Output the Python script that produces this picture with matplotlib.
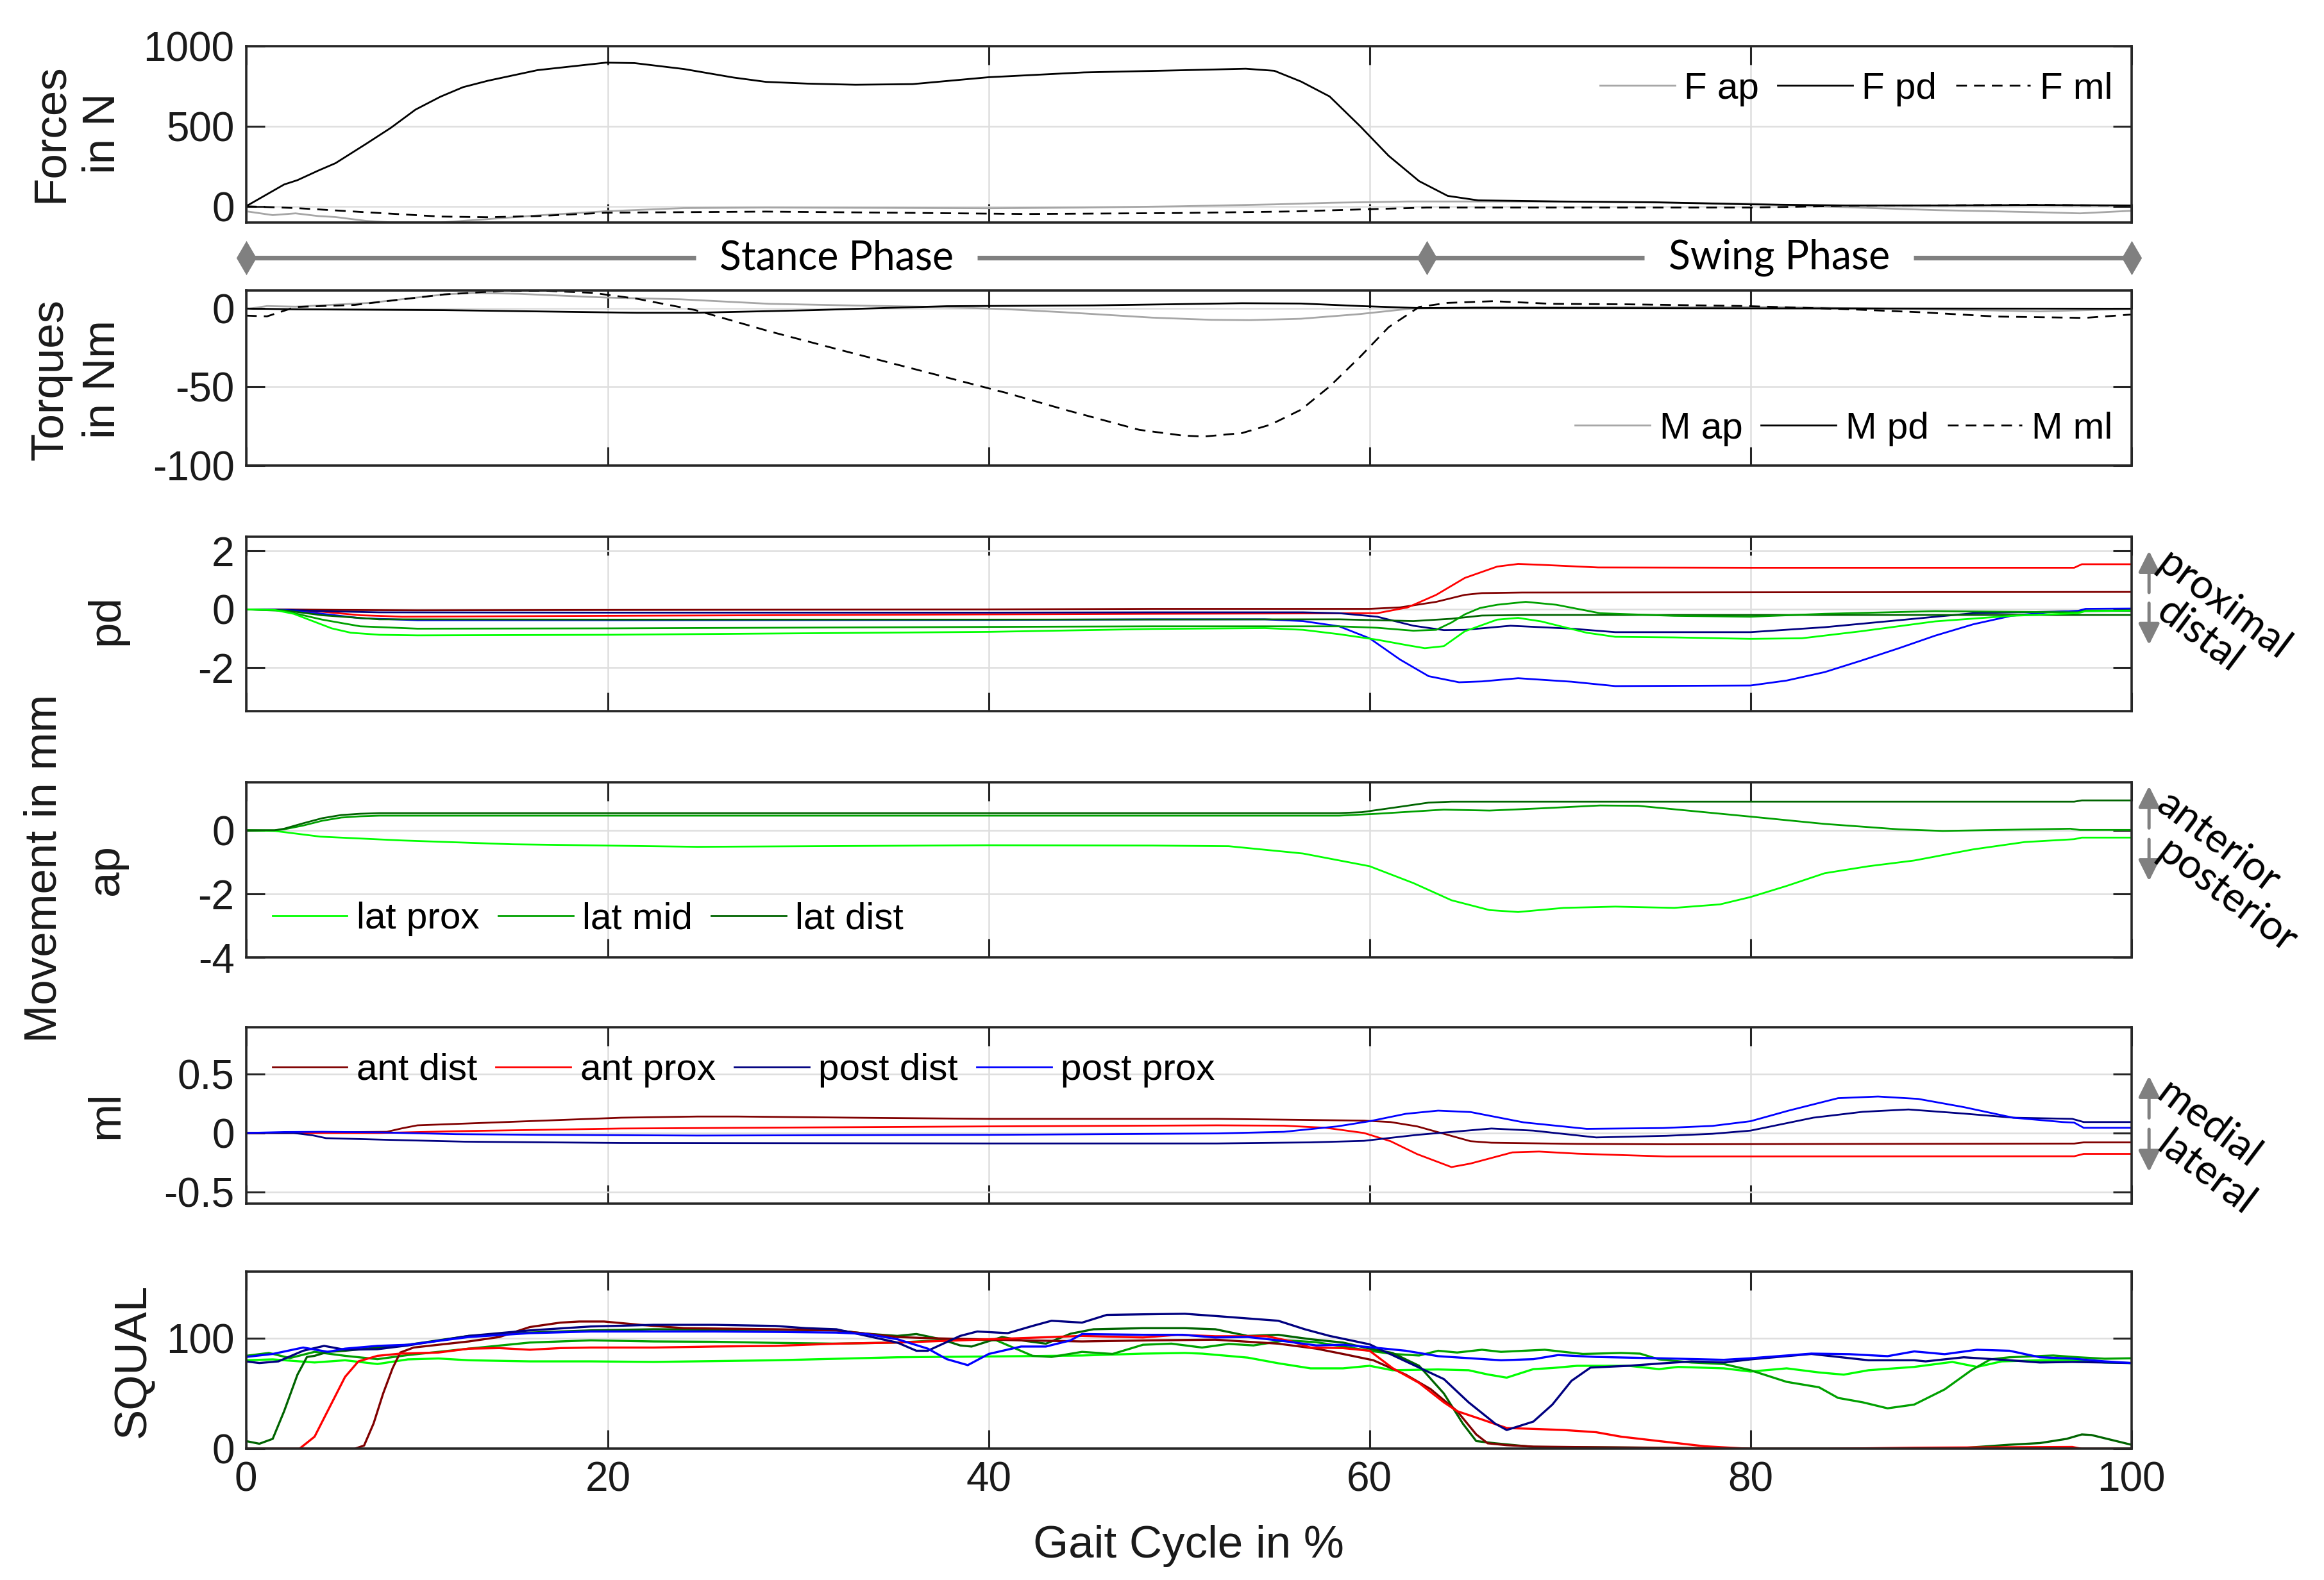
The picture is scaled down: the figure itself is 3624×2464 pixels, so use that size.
import numpy as np
import matplotlib.pyplot as plt
from matplotlib.lines import Line2D

plt.rcParams['font.family'] = ['Liberation Sans', 'DejaVu Sans']
plt.rcParams['axes.unicode_minus'] = False

# ---- gait cycle axis ----
xtick_pos = [1, 20, 40, 60, 80, 100]
xtick_lab = ['0', '20', '40', '60', '80', '100']
phase_x = [1, 63, 100]
phase_names = ['Stance Phase', 'Swing Phase']

# ---- forces (N) ----
f_ap_x = [1, 2.4, 3.6, 4.8, 5.7, 7.3, 8.6, 11.2, 13.7, 16.3, 19.9, 24, 28.3, 35, 40, 45, 50, 55, 58, 62, 67,
          72, 80, 84.6, 89.8, 95.1, 97.3, 100]
f_ap = [-31, -55, -44, -61, -67, -91, -100, -101, -80, -57, -31, -11, -8, -10, -12, -8, 0, 12, 22, 30, 30,
        28, 16, -4, -24, -37, -44, -28]
f_pd_x = [1, 3, 3.7, 4.8, 5.7, 7.3, 8.6, 9.9, 11.2, 12.4, 13.7, 16.3, 19.9, 21.4, 24, 26.6, 28.3, 30.5, 33, 36,
          40, 45, 50, 53.5, 55, 56.4, 57.9, 59.5, 61, 62.6, 64.1, 65.7, 70, 75, 80, 85, 90, 95, 100]
f_pd = [0, 136, 163, 223, 269, 389, 489, 603, 683, 743, 783, 849, 896, 893, 856, 803, 776, 765, 758, 762,
        805, 835, 848, 858, 845, 778, 685, 500, 315, 157, 65, 37, 30, 25, 12, 5, 5, 8, 5]
f_ml_x = [1, 3.6, 7.3, 11.2, 13.7, 16.3, 19.9, 28.3, 35, 42, 50, 56, 60, 63, 68.8, 80, 85, 90, 95, 100]
f_ml = [0, -11, -37, -64, -68, -61, -40, -33, -40, -48, -42, -32, -18, -8, -8, -8, 3, 6, 9, 3]

# ---- torques (Nm) ----
m_ap_x = [1, 2.1, 3.6, 7.5, 11.4, 12.9, 15.3, 19.9, 23.8, 28.5, 33.1, 37.8, 40.9, 44, 48.6, 51.7, 53.7, 56.4,
          59.5, 62.2, 65.7, 73.5, 81.2, 89, 95.2, 98.3, 100]
m_ap = [-0.4, 1.6, 1.2, 3.6, 9, 10, 9.4, 7, 5.9, 3, 1.9, 0.9, -0.4, -2.4, -5.8, -7.2, -7.4, -6.5,
        -3.5, 0, 0.9, 0.9, 0.9, -0.4, -1.8, -0.8, -0.3]
m_pd_x = [1, 3.6, 11.4, 21.5, 24.6, 30.8, 37.8, 45.5, 53.3, 56.4, 59.5, 62.6, 65.7, 81.2, 100]
m_pd = [0, -0.5, -1, -2.7, -2.7, -1, 1.5, 2, 3.4, 3.2, 1.6, 0.3, 0.4, 0.1, -0.1]
m_ml_x = [1, 2.1, 3.6, 6.7, 11.4, 14.5, 16.8, 19.2, 21.5, 24.6, 28.5, 32.3, 36.2, 40.9, 44, 47.9, 50.2, 51.3,
          53.3, 54.8, 56.4, 57.9, 59.5, 61, 62.6, 64.1, 66.5, 69.6, 73.5, 79.7, 85.1, 89, 92.9, 96.7, 97.5, 100]
m_ml = [-4.5, -5, 1, 2.3, 9, 11.3, 11.3, 10, 6.3, -1, -14.6, -26.7, -38.9, -53.7, -64.5, -77.3, -81, -81.6,
        -79.4, -74, -64.5, -49.7, -30.8, -11.9, 1, 3.6, 4.7, 3, 2.7, 1.6, -0.4, -2.4, -5.1, -5.8, -6, -3.8]

# ---- sensor colours ----
sensor_colors = {
    'lat prox': '#00ff00', 'lat mid': '#00a000', 'lat dist': '#006400',
    'ant dist': '#800000', 'ant prox': '#ff0000', 'post dist': '#000080', 'post prox': '#0000ff',
}

# ---- movement pd (mm) ----
pd_data = {
    'ant dist': ([1, 3, 6, 10, 20, 40, 48.6, 60, 61.6, 63.5, 65, 65.9, 68, 100],
                 [0, 0, -0.02, -0.03, -0.02, 0, 0.02, 0.02, 0.07, 0.26, 0.5, 0.56, 0.58, 0.6]),
    'ant prox': ([1, 3, 5, 7, 9.2, 20, 40, 48.6, 60.4, 62, 63.5, 65, 66.7, 67.8, 69, 72, 80, 97, 97.4, 100],
                 [0, -0.01, -0.08, -0.2, -0.25, -0.22, -0.17, -0.15, -0.13, 0.07, 0.5, 1.08, 1.47, 1.56, 1.53,
                  1.44, 1.43, 1.43, 1.55, 1.55]),
    'post dist': ([1, 3, 5, 8, 20, 40, 48.6, 56.5, 58.4, 60.4, 62.3, 63.9, 65, 67.4, 70.6, 72.9, 80, 83.9, 87.8,
                   91.7, 97.2, 100],
                  [0, -0.01, -0.06, -0.1, -0.11, -0.11, -0.1, -0.1, -0.13, -0.25, -0.56, -0.71, -0.7, -0.56,
                   -0.66, -0.78, -0.78, -0.61, -0.37, -0.13, -0.06, -0.05]),
    'post prox': ([1, 3, 5, 7, 10, 20, 40, 48.6, 54.5, 56.5, 58.4, 60, 61.6, 63.1, 64.7, 65.9, 67.8, 70.6, 72.9,
                   80, 81.9, 83.9, 85.8, 87.8, 89.7, 91.7, 93.7, 95.6, 97.2, 97.6, 100],
                  [0, -0.02, -0.15, -0.3, -0.37, -0.37, -0.36, -0.34, -0.34, -0.4, -0.58, -0.99, -1.72, -2.29,
                   -2.5, -2.47, -2.36, -2.48, -2.63, -2.61, -2.44, -2.15, -1.76, -1.33, -0.9, -0.51, -0.22,
                   -0.1, -0.05, 0.02, 0.03]),
    'lat dist': ([1, 3, 5, 8, 20, 40, 58.4, 60.4, 62.3, 64.3, 65.9, 68.2, 100],
                 [0, -0.03, -0.2, -0.34, -0.35, -0.35, -0.34, -0.37, -0.4, -0.32, -0.21, -0.19, -0.19]),
    'lat mid': ([1, 3, 5, 7, 10, 20, 40, 48.6, 58.4, 60.4, 62.3, 63.5, 64.3, 65, 65.8, 66.7, 68.2, 69.8, 72.1,
                 76, 80, 83.9, 89.7, 97.2, 97.6, 100],
                [0, -0.05, -0.35, -0.58, -0.66, -0.65, -0.6, -0.58, -0.58, -0.63, -0.73, -0.7, -0.45, -0.17,
                 0.05, 0.16, 0.26, 0.16, -0.13, -0.22, -0.25, -0.15, -0.06, -0.1, -0.04, -0.04]),
    'lat prox': ([1, 2.5, 3.5, 4.5, 5.5, 6.5, 8, 10, 20, 40, 48.6, 54.5, 56.5, 58.4, 60.4, 62, 62.9, 63.9, 65,
                  66.7, 67.8, 69, 71.4, 72.9, 76, 80, 82.7, 85.8, 89.7, 93.7, 97.2, 97.6, 100],
                 [0, -0.02, -0.15, -0.4, -0.65, -0.8, -0.87, -0.89, -0.87, -0.77, -0.67, -0.64, -0.7, -0.85,
                  -1.04, -1.23, -1.33, -1.26, -0.75, -0.35, -0.29, -0.41, -0.8, -0.94, -0.96, -1.01, -0.99,
                  -0.75, -0.41, -0.22, -0.13, -0.06, -0.04]),
}

# ---- movement ap (mm) ----
ap_data = {
    'lat prox': ([1, 2.5, 4.9, 9.2, 15, 24.7, 40, 48.6, 52.6, 56.5, 60, 62.3, 64.3, 66.3, 67.8, 70.2, 72.9, 76,
                  78.4, 80, 81.9, 83.9, 86.2, 88.6, 91.7, 94.4, 97, 97.4, 100],
                 [0, -0.02, -0.2, -0.32, -0.44, -0.52, -0.47, -0.48, -0.5, -0.73, -1.13, -1.66, -2.2, -2.51,
                  -2.57, -2.44, -2.4, -2.44, -2.33, -2.1, -1.75, -1.35, -1.13, -0.95, -0.6, -0.37, -0.28,
                  -0.23, -0.23]),
    'lat mid': ([1, 2.5, 3, 4, 5, 6, 7, 8, 48.6, 58.4, 60.4, 63.9, 66.3, 69, 72.1, 74.1, 80, 83.9, 87.8, 90.1,
                 96.8, 97.3, 100],
                [0, 0, 0.03, 0.15, 0.3, 0.4, 0.44, 0.46, 0.46, 0.46, 0.52, 0.65, 0.62, 0.69, 0.78, 0.77, 0.43,
                 0.2, 0.03, -0.02, 0.05, 0.01, 0.01]),
    'lat dist': ([1, 2.5, 3, 4, 5, 6, 7, 8, 58.4, 59.6, 61.6, 63.1, 64.3, 97, 97.4, 100],
                 [0, 0, 0.05, 0.22, 0.38, 0.48, 0.52, 0.54, 0.54, 0.57, 0.74, 0.87, 0.9, 0.9, 0.94, 0.94]),
}

# ---- movement ml (mm) ----
ml_data = {
    'ant dist': ([1, 8.4, 9.2, 10, 12.5, 16.6, 20.7, 24.7, 26.8, 32.9, 40, 52, 59.7, 61.1, 62.5, 63.9, 65.3,
                  66.4, 70.9, 75.6, 97, 97.5, 100],
                 [0, 0.01, 0.04, 0.065, 0.08, 0.105, 0.13, 0.14, 0.14, 0.13, 0.12, 0.12, 0.105, 0.093, 0.056,
                  -0.007, -0.07, -0.083, -0.093, -0.096, -0.09, -0.08, -0.08]),
    'ant prox': ([1, 8, 12, 16.6, 20.7, 40, 52, 55.5, 57.7, 59.7, 61.1, 62.5, 64.3, 65.3, 67.5, 68.9, 70.9,
                  75.6, 97, 97.5, 100],
                 [0, 0, 0.015, 0.027, 0.038, 0.056, 0.065, 0.062, 0.044, 0, -0.07, -0.18, -0.29, -0.26, -0.165,
                  -0.158, -0.176, -0.2, -0.198, -0.178, -0.178]),
    'post dist': ([1, 3.5, 4.5, 5.2, 8.4, 12.5, 20.7, 40, 52, 56.9, 59.7, 62.5, 66.4, 68.6, 71.9, 75.6, 78, 80,
                   83.3, 85.9, 88.3, 91.2, 93.8, 96.9, 97.5, 100],
                  [0, 0, -0.02, -0.044, -0.058, -0.074, -0.085, -0.089, -0.089, -0.08, -0.067, -0.016, 0.038,
                   0.02, -0.038, -0.024, -0.007, 0.02, 0.13, 0.18, 0.2, 0.165, 0.13, 0.12, 0.093, 0.093]),
    'post prox': ([1, 3, 5, 8, 12, 16.6, 24.7, 40, 52, 55.5, 58.3, 60, 61.9, 63.6, 65.3, 68.1, 71.4, 75.4, 78,
                   80, 82, 84.6, 86.7, 88.8, 91.2, 93.8, 96.4, 97, 97.5, 100],
                  [0, 0.008, 0.01, 0.005, -0.01, -0.016, -0.022, -0.016, -0.004, 0.01, 0.056, 0.1, 0.163, 0.19,
                   0.178, 0.09, 0.035, 0.042, 0.06, 0.1, 0.19, 0.296, 0.31, 0.29, 0.22, 0.13, 0.093, 0.088,
                   0.044, 0.044]),
}

# ---- SQUAL ----
squal_data = {
    'ant dist': ([1, 6.7, 7.2, 7.7, 8.2, 8.7, 9.1, 9.8, 11.1, 12.7, 14.3, 15.9, 17.5, 18.5, 19.8, 21.7, 24, 28.8,
                  32, 35.2, 36.8, 41.7, 44.9, 48.6, 51.9, 55.2, 57.2, 58.6, 60.2, 61.9, 63.2, 64.6, 65.6, 66.2,
                  67.2, 68.6, 71.9, 78.6, 80, 100],
                 [0, 0, 3, 23, 50, 73, 87, 91.5, 94, 97, 101, 110, 114, 115, 115, 112, 109, 108, 107, 101, 100,
                  98, 97, 98, 98.6, 95, 90.5, 85.7, 80, 67, 54, 34, 13, 5, 3.3, 2, 1.4, 0.4, 0, 0]),
    'ant prox': ([1, 3.8, 4.6, 5.4, 6.2, 6.9, 7.9, 9.1, 11.1, 12.7, 14.3, 15.9, 17.5, 19.1, 22.4, 25.6, 28.8, 32,
                  35.2, 38.5, 41.7, 44.9, 48.1, 49.9, 51.9, 54.6, 55.9, 56.9, 58.6, 60, 61.2, 62.6, 63.9, 64.6,
                  65.9, 67.2, 68.6, 70.2, 71.9, 73.2, 75.2, 77.6, 80, 84, 88.6, 96.9, 97.4, 100],
                 [0, 0, 11, 38, 65, 79, 84, 86, 87, 90.5, 91, 89.5, 91, 91.5, 91.5, 92.4, 93, 95, 96, 98, 100,
                  102, 100.6, 103, 101.7, 101.7, 97, 91.5, 91, 88.6, 73, 59.5, 42, 34, 26.5, 18.8, 18, 17, 15,
                  11, 7, 2.3, 0, 0, 1, 1.7, 0, 0]),
    'post dist': ([1, 1.7, 2.7, 4, 5.1, 6.2, 7.9, 9.5, 12.7, 15.9, 19.1, 22.4, 25.6, 28.8, 30.4, 32, 33.6, 35.2,
                   36.2, 36.8, 38.5, 39.4, 41, 42.3, 43.3, 44.9, 46.2, 48.1, 50.3, 51.9, 55.2, 56.6, 57.9, 60,
                   61.9, 63.9, 65.2, 66.6, 67.2, 68.6, 69.6, 70.6, 71.6, 73.6, 75.2, 76.9, 78.6, 80, 83.2, 86.2,
                   88.6, 89.2, 91.2, 93.6, 95.2, 96.9, 98.6, 100],
                  [79, 77.5, 79, 88.6, 93, 89.5, 90, 93.4, 102, 107, 110.5, 112, 112, 111, 109, 108, 102, 96,
                   88.6, 88.6, 102, 106, 104.5, 111, 115.7, 114, 121, 121.5, 122, 120, 115.7, 108, 102, 94.4,
                   79, 63, 42, 22.7, 17, 24.6, 40, 61.4, 73.4, 75, 77, 79, 78, 80.8, 85.7, 80, 80, 79, 82.7,
                   80, 78, 78.5, 78, 77.5]),
    'post prox': ([1, 2.4, 4, 5.3, 6.2, 7.9, 9.5, 12.7, 15.9, 19.1, 25.6, 28.8, 32, 33.6, 35.2, 36.8, 37.8, 38.9,
                   40, 41.7, 43, 44.3, 44.9, 48.1, 50.2, 51.9, 53.6, 55.2, 57.2, 58.6, 60.2, 61.9, 63.6, 66.9,
                   68.6, 69.9, 71.9, 75.2, 78.6, 80, 80.9, 83.2, 85.2, 87.2, 88.6, 90.2, 91.9, 93.6, 95.2, 96.9,
                   98.6, 100],
                  [83, 85.7, 91.5, 87.6, 90.5, 93, 94, 101, 104.5, 106, 106, 105.6, 105, 103.7, 99, 90.5, 81,
                   75.6, 85.7, 92.4, 92.4, 98, 103.7, 103, 103, 100.6, 101, 98, 93.4, 94, 91.5, 88.6, 83.7, 80,
                   81, 84.7, 83, 81.8, 80.4, 81.8, 83, 86, 85.5, 83.7, 88, 85.5, 89.5, 88.6, 82.7, 81.5, 79,
                   77.5]),
    'lat dist': ([1, 1.7, 2.4, 3, 3.7, 4.2, 4.6, 5.3, 6.2, 7.9, 9.5, 12.7, 15.9, 19.1, 22.4, 28.8, 32, 33.6, 35.2,
                  36.2, 37.5, 38.5, 39.1, 40.7, 41.7, 43, 44.3, 45.5, 48.1, 50.3, 51.9, 53.6, 55.2, 56.9, 58.6,
                  60, 61.2, 62.6, 63.9, 64.9, 65.6, 66.6, 68.6, 75.2, 80, 88, 91.2, 93.6, 95.2, 96.6, 97.4, 97.9,
                  100],
                 [7, 4.6, 9, 34, 67, 83, 84, 87.6, 88.6, 91.5, 94, 102, 105, 107, 108, 107.5, 107, 104, 102,
                  103.7, 99, 93.4, 92.4, 101, 98, 95, 104, 108, 109, 109, 108, 102, 103, 99, 96, 90.5, 86.6, 75,
                  50, 22.7, 7, 5, 1.7, 1, 0, 0, 0.8, 3.7, 5.2, 9, 13, 12.5, 3.7]),
    'lat mid': ([1, 2.2, 3.3, 4.6, 6.2, 7.9, 9.5, 12.7, 15.9, 19.1, 22.4, 25.6, 28.8, 32, 35.2, 38.5, 40.4, 42.3,
                 43.3, 44.9, 46.5, 48.1, 49.6, 51.2, 52.6, 53.9, 55.6, 57.2, 60, 61.2, 62.6, 63.6, 64.6, 65.9,
                 66.9, 69.2, 71.2, 73.2, 74.2, 75.2, 76.9, 78.6, 80, 81.9, 83.6, 84.6, 85.9, 87.2, 88.6, 90.2,
                 91.6, 92.6, 93.6, 95.9, 97.2, 98.6, 100],
                [84, 86.6, 82, 87.6, 84, 81, 84.7, 90.5, 96, 98, 97, 96.7, 95.7, 95, 96, 99, 98, 84, 83, 87.6,
                 85.7, 94, 95, 91.5, 94.8, 93.4, 98, 96.3, 88.6, 85.7, 84.3, 88.6, 87, 89.5, 87.6, 89.5, 85.7,
                 86.6, 86, 80.8, 78, 76.6, 71, 60.5, 55.6, 46, 42, 36.6, 40, 53.7, 71, 80.8, 82.7, 84.3, 82.7,
                 81.4, 81.8]),
    'lat prox': ([1, 2.4, 4.6, 6.2, 7.9, 9.5, 11.1, 12.7, 15.9, 19.1, 22.4, 28.8, 35.2, 41.7, 44.9, 48.1, 50.3,
                  51.2, 53.6, 55.2, 56.9, 58.6, 60, 61.2, 63.6, 65.2, 66.2, 67.2, 68.6, 69.6, 70.9, 73.6, 75.2,
                  76.2, 78.6, 80, 81.9, 83.6, 84.9, 86.2, 88.6, 90.6, 91.9, 93.2, 95.2, 96.9, 98.6, 100],
                 [80, 80.8, 78, 80, 76.6, 80.8, 81.6, 80, 79, 79, 78.5, 80, 82.7, 83.7, 84.3, 86, 86.6, 86,
                  82.4, 77.3, 72.7, 72.7, 75, 71, 71.7, 71, 67.2, 64.3, 72, 73, 75, 75, 72, 74, 72.7, 69.8,
                  72.7, 69, 67, 71, 74, 78.5, 74, 79, 80, 80.4, 78, 77.5]),
}

# ---------------------------------------------------------------
fig = plt.figure(figsize=(18.12, 12.32), dpi=200)
H = 1066.0
left, width = 166 / 1568, 1272 / 1568
axc = '#262626'


def panel(top, bottom):
    return fig.add_axes([left, 1 - bottom / H, width, (bottom - top) / H])


def style(ax, ylim, yticks):
    ax.set_xlim(1, 100)
    ax.set_ylim(*ylim)
    ax.set_xticks(xtick_pos)
    ax.set_xticklabels(xtick_lab)
    ax.set_yticks(yticks)
    ax.grid(True, color='#dedede', lw=0.9)
    ax.set_axisbelow(True)
    ax.tick_params(direction='in', length=10.5, width=1.1, color=axc, top=True, right=True,
                   labelsize=23, labelcolor='#1a1a1a')
    ax.tick_params(axis='y', pad=6.5)
    ax.tick_params(axis='x', pad=7, labelbottom=False)
    for s in ax.spines.values():
        s.set_color(axc)
        s.set_linewidth(1.3)


lw = 1.0
dash = (0, (6, 4))
leg_kw = dict(frameon=False, fontsize=21, handlelength=2.0, handletextpad=0.25, columnspacing=0.5,
              borderaxespad=0, borderpad=0)

# forces
ax1 = panel(31, 150)
style(ax1, (-100, 1000), [0, 500, 1000])
ax1.plot(f_ap_x, f_ap, color='#a6a6a6', lw=lw, label='F ap')
ax1.plot(f_pd_x, f_pd, color='black', lw=lw, label='F pd')
ax1.plot(f_ml_x, f_ml, color='black', lw=lw, ls=dash, label='F ml')
ax1.legend(loc='center right', bbox_to_anchor=(0.99, 0.756), ncol=3, **leg_kw)

# torques
ax2 = panel(196, 314)
style(ax2, (-100, 11.5), [-100, -50, 0])
ax2.plot(m_ap_x, m_ap, color='#a6a6a6', lw=lw, label='M ap')
ax2.plot(m_pd_x, m_pd, color='black', lw=lw, label='M pd')
ax2.plot(m_ml_x, m_ml, color='black', lw=lw, ls=dash, label='M ml')
ax2.legend(loc='center right', bbox_to_anchor=(0.99, 0.21), ncol=3, **leg_kw)

# pd
ax3 = panel(362, 480)
style(ax3, (-3.5, 2.5), [-2, 0, 2])
for name, (xs, ys) in pd_data.items():
    ax3.plot(xs, ys, color=sensor_colors[name], lw=lw)

# ap
ax4 = panel(528, 646)
style(ax4, (-4, 1.5), [-4, -2, 0])
for name, (xs, ys) in ap_data.items():
    ax4.plot(xs, ys, color=sensor_colors[name], lw=lw, label=name)
ax4.legend(loc='center left', bbox_to_anchor=(0.014, 0.22), ncol=3, **leg_kw)

# ml
ax5 = panel(693, 812)
style(ax5, (-0.6, 0.9), [-0.5, 0, 0.5])
ax5.set_yticklabels(['-0.5', '0', '0.5'])
for name, (xs, ys) in ml_data.items():
    ax5.plot(xs, ys, color=sensor_colors[name], lw=lw, label=name)
ax5.legend(loc='center left', bbox_to_anchor=(0.014, 0.756), ncol=4, **leg_kw)

# SQUAL
ax6 = panel(858, 977.5)
style(ax6, (0, 160), [0, 100])
ax6.tick_params(axis='x', labelbottom=True)
for name in ['lat prox', 'lat mid', 'lat dist', 'ant dist', 'ant prox', 'post dist', 'post prox']:
    xs, ys = squal_data[name]
    ax6.plot(xs, ys, color=sensor_colors[name], lw=1.2)

# stance / swing bar, line broken around the phase names
axb = fig.add_axes([left, 1 - 190 / H, width, 32 / H])
axb.set_xlim(1, 100)
axb.set_ylim(-1, 1)
axb.axis('off')
renderer = fig.canvas.get_renderer()
gap = 1.25
for i, name in enumerate(phase_names):
    x0, x1 = phase_x[i], phase_x[i + 1]
    t = axb.text((x0 + x1) / 2, 0, name, ha='center', va='center', fontsize=22.5, family='Lato')
    bb = t.get_window_extent(renderer=renderer)
    inv = axb.transData.inverted()
    xl = inv.transform((bb.x0, 0))[0]
    xr = inv.transform((bb.x1, 0))[0]
    axb.plot([x0, xl - gap], [0, 0], color='#808080', lw=2.6, solid_capstyle='butt', clip_on=False)
    axb.plot([xr + gap, x1], [0, 0], color='#808080', lw=2.6, solid_capstyle='butt', clip_on=False)
axb.plot(phase_x, [0] * len(phase_x), ls='none', marker='d', ms=12, color='#808080', clip_on=False)

# direction hints on the right
ax_x = 1.0094
hints = [
    (ax3, (0.68, 0.918), (0.619, 0.381), 'proximal', 0.87, 'distal', 0.60),
    (ax4, (0.74, 0.98), (0.675, 0.437), 'anterior', 0.90, 'posterior', 0.63),
    (ax5, (0.485, 0.723), (0.421, 0.18), 'medial', 0.65, 'lateral', 0.36),
]
for ax, up, down, t_up, y_up, t_dn, y_dn in hints:
    for a, b in (up, down):
        ax.annotate('', xy=(ax_x, b), xytext=(ax_x, a), xycoords='axes fraction',
                    arrowprops=dict(arrowstyle='-|>,head_length=0.4,head_width=0.2', color='#808080',
                                    lw=1.8, mutation_scale=25, shrinkA=0, shrinkB=0))
    ax.text(1.016, y_up, t_up, transform=ax.transAxes, rotation=-37, rotation_mode='anchor',
            ha='left', va='center', fontsize=23, family='Lato')
    ax.text(1.016, y_dn, t_dn, transform=ax.transAxes, rotation=-37, rotation_mode='anchor',
            ha='left', va='center', fontsize=23, family='Lato')

# labels
lab = dict(rotation=90, ha='center', va='center', fontsize=25.5, color='#1a1a1a', linespacing=1.3)
fig.text(52 / 1568, 1 - 90 / H, 'Forces\nin N', **lab)
fig.text(52 / 1568, 1 - 256 / H, 'Torques\nin Nm', **lab)
fig.text(72 / 1568, 1 - 418 / H, 'pd', **lab)
fig.text(72 / 1568, 1 - 587 / H, 'ap', **lab)
fig.text(72 / 1568, 1 - 752 / H, 'ml', **lab)
fig.text(30 / 1568, 1 - 586 / H, 'Movement in mm', **lab)
fig.text(90 / 1568, 1 - 918 / H, 'SQUAL', **lab)
fig.text((166 + 1438) / 2 / 1568, 1 - 1043 / H, 'Gait Cycle in %', ha='center', va='center',
         fontsize=25.5, color='#1a1a1a')

fig.savefig('out.png', dpi=200)
